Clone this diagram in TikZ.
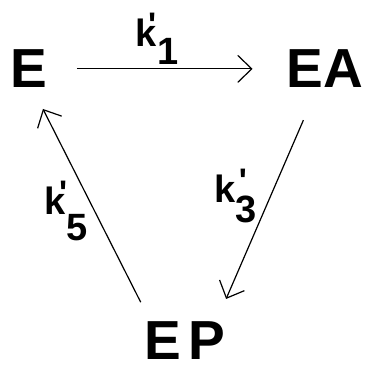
\documentclass[tikz,border=0pt]{standalone}
\usepackage{fontspec}
\setmainfont{Liberation Sans}
\usetikzlibrary{arrows.meta}
\newcommand{\rate}[3]{k\rlap{\kern#2\raisebox{10pt}{\fontsize{34}{34}\selectfont\textquotesingle}}\raisebox{-#3}{#1}}

\begin{document}
\begin{tikzpicture}[
  species/.style={inner sep=0pt,font=\fontsize{55}{60}\selectfont\bfseries},
  ratelbl/.style={inner sep=0pt,anchor=base west,font=\fontsize{38}{40}\selectfont\bfseries},
  arr/.style={line width=1.2pt,-{Straight Barb[length=14pt,width=27pt]}}]
  \useasboundingbox (0,0) rectangle (12.9,13.0);
  % species
  \node[species] (E) at (1.03,10.58) {E};
  \node[species] (EA) at (11.42,10.58) {EA};
  \node[species] (EP) at (6.49,1.05) {E\kern8pt P};
  % reactions
  \draw[arr,shorten <=29pt,shorten >=34pt] (E) -- (EA);
  \draw[arr,shorten <=35pt,shorten >=24pt] (EA.-112) -- (EP.31);
  \draw[arr,shorten <=21pt,shorten >=23.5pt] (EP.151) -- (E.-81);
  % rate constants
  \node[ratelbl] (k1) at (4.77,11.35) {\rate{1}{-9pt}{18pt}};
  \node[ratelbl] (k3) at (7.54,5.87) {\rate{3}{3pt}{20pt}};
  \node[ratelbl] (k5) at (1.57,5.45) {\rate{5}{-7pt}{26pt}};
\end{tikzpicture}
\end{document}
